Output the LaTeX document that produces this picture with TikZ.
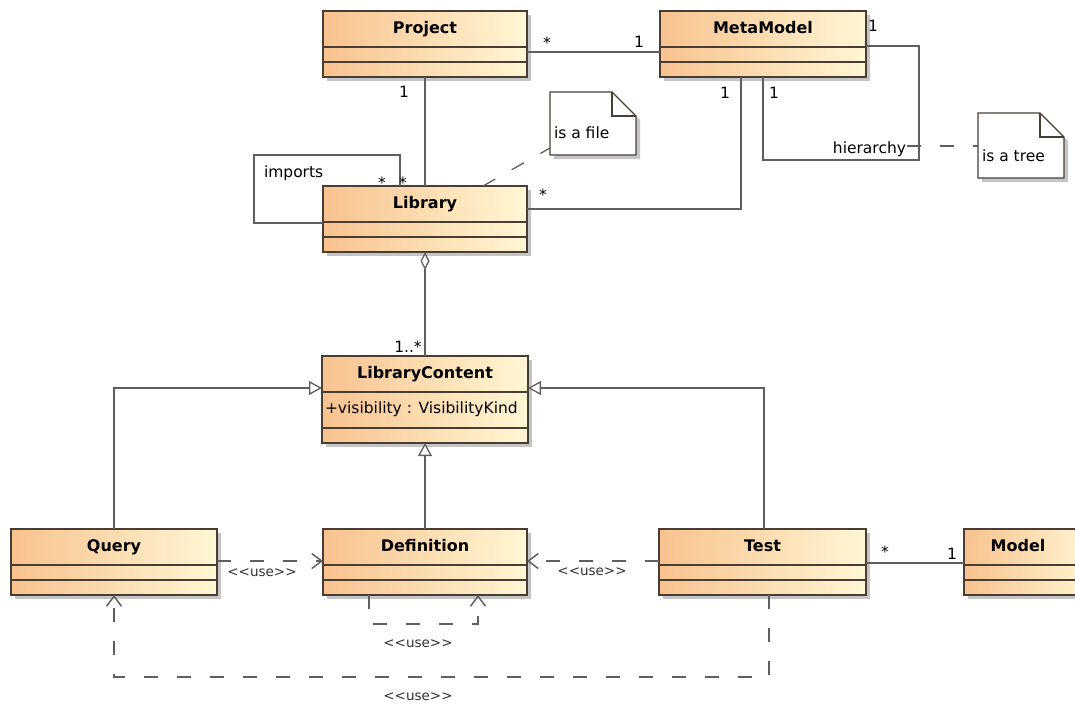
\documentclass[tikz,border=0pt]{standalone}
\usepackage{fontspec}
\setmainfont{DejaVu Sans}[Ligatures=TeXOff]
\usetikzlibrary{calc,arrows.meta,shadows}

\definecolor{classL}{RGB}{248,194,143}
\definecolor{classR}{RGB}{255,247,212}
\definecolor{frameC}{RGB}{72,62,52}
\definecolor{edgeC}{RGB}{95,95,95}

\tikzset{
  every node/.style={inner sep=0pt, outer sep=0pt},
  classbox/.style={rectangle, draw=frameC, line width=1.3pt,
    left color=classL, right color=classR, anchor=north west,
    drop shadow={shadow xshift=4pt, shadow yshift=-4pt, fill=black!45, opacity=0.5}},
  divider/.style={draw=frameC, line width=1.2pt},
  classtitle/.style={font=\fontsize{16}{18}\selectfont\bfseries, anchor=base},
  notebox/.style={fill=white, draw=frameC, line width=1.1pt,
    drop shadow={shadow xshift=4pt, shadow yshift=-4pt, fill=black!45, opacity=0.5}},
  notefold/.style={draw=frameC, line width=1.1pt},
  lbl/.style={font=\fontsize{15.5}{17}\selectfont, anchor=base},
  stereo/.style={font=\fontsize{13.5}{15}\selectfont, anchor=base, text=black!80},
  assoc/.style={draw=edgeC, line width=1.3pt},
  dep/.style={assoc, dash pattern=on 14pt off 19pt,
    -{Straight Barb[length=10pt,width=15pt,line width=1.5pt]}},
  notelink/.style={assoc, dash pattern=on 14pt off 19pt},
  gen/.style={assoc, -{Triangle[open,length=13pt,width=14pt,fill=white]}},
  agg/.style={assoc, {Diamond[open,length=18pt,width=9pt,fill=white]}-},
}

% UML class box: name, left, top, width, title
\newcommand\umlclass[5]{%
  \node[classbox, minimum width=#4pt, minimum height=66pt] (#1) at (#2,#3) {};
  \node[classtitle] (#1-name) at ($(#1.north)+(0,22)$) {#5};
  \draw[divider] ($(#1.north west)+(0,36)$) -- ($(#1.north east)+(0,36)$);
  \draw[divider] ($(#1.north west)+(0,51)$) -- ($(#1.north east)+(0,51)$);
}

% UML note with folded corner: name, left, top, width, height, text
\newcommand\umlnote[6]{%
  \node[minimum width=#4pt, minimum height=#5pt, anchor=north west] (#1) at (#2,#3) {};
  \filldraw[notebox] (#1.north west) -- ($(#1.north east)+(-24,0)$)
    -- ($(#1.north east)+(0,24)$) -- (#1.south east) -- (#1.south west) -- cycle;
  \draw[notefold] ($(#1.north east)+(-24,0)$) |- ($(#1.north east)+(0,24)$);
  \node[lbl, anchor=base west] (#1-text) at ($(#1.south west)+(4,-17)$) {#6};
}

\begin{document}
\begin{tikzpicture}[x=1pt, y=-1pt]
\useasboundingbox (0,0) rectangle (1075,704);
\clip (0,0) rectangle (1075,704);

% ---------- classes ----------
\umlclass{Project}{323}{11}{204}{Project}
\umlclass{MetaModel}{660}{11}{206}{MetaModel}
\umlclass{Library}{323}{186}{204}{Library}

\node[classbox, minimum width=206pt, minimum height=87pt] (LibraryContent) at (322,356) {};
\node[classtitle] (LibraryContent-name) at ($(LibraryContent.north)+(0,22)$) {LibraryContent};
\draw[divider] ($(LibraryContent.north west)+(0,36)$) -- ($(LibraryContent.north east)+(0,36)$);
\draw[divider] ($(LibraryContent.north west)+(0,72)$) -- ($(LibraryContent.north east)+(0,72)$);
\node[lbl, anchor=base west] (visibility) at (325,413) {+visibility : VisibilityKind};

\umlclass{Query}{11}{529}{206}{Query}
\umlclass{Definition}{323}{529}{204}{Definition}
\umlclass{Test}{659}{529}{207}{Test}

\node[classbox, minimum width=130pt, minimum height=66pt] (Model) at (964,529) {};
\node[classtitle] (Model-name) at (1018,551) {Model};
\draw[divider] ($(Model.north west)+(0,36)$) -- ($(Model.north east)+(0,36)$);
\draw[divider] ($(Model.north west)+(0,51)$) -- ($(Model.north east)+(0,51)$);

% ---------- notes ----------
\umlnote{fileNote}{550}{92}{86}{63}{is a file}
\umlnote{treeNote}{978}{113}{86}{65}{is a tree}

% ---------- associations ----------
\draw[assoc] ($(Project.north east)+(0,41)$) -- ($(MetaModel.north west)+(0,41)$);
\node[lbl] (m1) at (547,48) {*};
\node[lbl] (m2) at (639,47) {1};

\draw[assoc] (Project.south) -- (Library.north);
\node[lbl] (m3) at (404,97) {1};

\draw[assoc] ($(MetaModel.south west)+(81,0)$) |- ($(Library.north east)+(0,23)$);
\node[lbl] (m4) at (725,98) {1};
\node[lbl] (m5) at (543,200) {*};

% hierarchy: MetaModel to itself
\coordinate (hierR) at (919,160);
\draw[assoc] ($(MetaModel.north east)+(0,35)$) -| (hierR) -| (MetaModel.south);
\node[lbl] (m6) at (873,31) {1};
\node[lbl] (m7) at (774,98) {1};
\node[lbl, anchor=base east] (hier) at (906,153) {hierarchy};
\coordinate (hierEnd) at ($(hier.base east)+(1,-7)$);
\draw[notelink] (hierEnd) -- (treeNote.west |- hierEnd);

% imports: Library to itself
\coordinate (impCorner) at (254,155);
\draw[assoc] ($(Library.north west)+(0,37)$) -| (impCorner) -| ($(Library.north west)+(77,0)$);
\node[lbl, anchor=base west] (imports) at (264,177) {imports};
\node[lbl] (m8) at (382,188) {*};
\node[lbl] (m9) at (403,188) {*};

% note link for Library
\draw[notelink] ($(Library.north west)+(160,0)$) -- ($(fileNote.south west)+(0,-7)$);

% aggregation Library <>-- LibraryContent
\draw[agg] (Library.south) -- (Library.south |- LibraryContent.north);
\node[lbl] (m10) at (408,352) {1..*};

% ---------- generalizations ----------
\draw[gen] (Query.north) |- ($(LibraryContent.north west)+(0,32)$);
\draw[gen] ($(Test.north west)+(105,0)$) |- ($(LibraryContent.north east)+(0,32)$);
\draw[gen] (Definition.north) -- (Definition.north |- LibraryContent.south);

% ---------- Test -- Model ----------
\draw[assoc] ($(Test.north east)+(0,34)$) -- ($(Model.north west)+(0,34)$);
\node[lbl] (m11) at (885,557) {*};
\node[lbl] (m12) at (952,559) {1};

% ---------- dependencies ----------
\draw[dep] ($(Query.north east)+(0,32)$) -- ($(Definition.north west)+(0,32)$);
\node[stereo] (u1) at (262,576) {<<use>>};

\draw[dep] ($(Test.north west)+(0,32)$) -- ($(Definition.north east)+(0,32)$);
\node[stereo] (u2) at (592,575) {<<use>>};

\draw[dep] ($(Definition.south west)+(46,0)$) -- ++(0,29) -| ($(Definition.south west)+(155,0)$);
\node[stereo] (u3) at (418,647) {<<use>>};

\draw[dep] ($(Test.south west)+(110,0)$) -- ++(0,82) -| (Query.south);
\node[stereo] (u4) at (418,700) {<<use>>};

\end{tikzpicture}
\end{document}
